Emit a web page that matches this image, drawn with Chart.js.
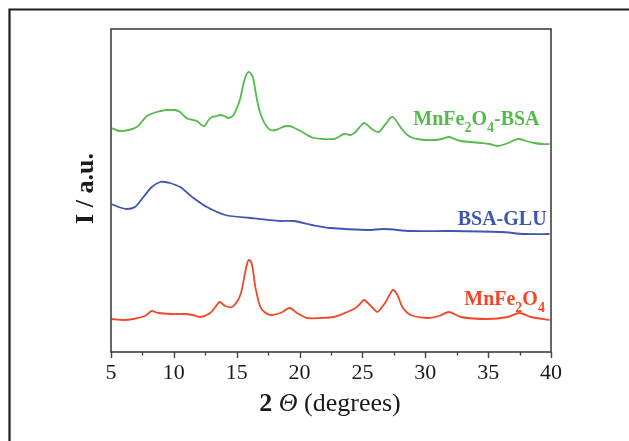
<!DOCTYPE html>
<html>
<head>
<meta charset="utf-8">
<script src="https://cdn.jsdelivr.net/npm/chart.js@4"></script>
<style>
html,body{margin:0;padding:0;background:#fff;}
canvas{display:block;}
</style>
</head>
<body>
<canvas id="c" width="629" height="441"></canvas>
<script>
// 2θ positions (degrees) and relative intensities (arbitrary units)
const greenX = [5.05,5.7,6.4,7.05,7.5,7.85,8.2,8.64,9.0,9.44,10.1,10.5,10.9,11.17,11.5,11.83,12.2,12.44,12.7,13.03,13.4,13.69,14.0,14.36,14.75,15.05,15.29,15.5,15.69,15.85,16.0,16.15,16.3,16.45,16.62,16.8,17.02,17.3,17.68,18.1,18.48,18.9,19.2,19.6,20.07,20.6,21.13,21.9,22.73,23.1,23.52,24.06,24.35,24.59,24.85,25.12,25.4,25.65,26.0,26.32,26.65,26.98,27.2,27.43,27.65,27.91,28.2,28.58,29.0,29.38,30.0,30.7,31.3,31.9,32.3,32.83,33.6,34.43,35.1,35.76,36.6,37.1,37.48,38.0,38.68,39.3,39.88];
const greenY = [224,221,222,225,231,236,238,240,241,242,242,240,235,233,232,231,227,226,231,235,236,237,236,234,237,245,254,266,275,279,280,278,274,264,252,242,234,227,222,222,224,226,226,224,221,217,214,213,213,215,218,217,219,222,226,229,227,224,221,220,225,230,234,235,232,227,222,217,214,213,212,212,213,215,213,211,210,209,208,206,209,212,213,211,209,208,208];

const blueX = [5.05,5.6,6.25,6.9,7.58,8.24,8.9,9.3,9.7,10.5,11.0,11.56,12.63,14.09,16.08,18.48,19.54,21.0,22.46,25.39,26.72,28.84,32.03,36.0,37.88,39.88];
const blueY = [148,145,143,145,155,165,170,170,169,165,160,154,145,137,134,131,131,127,124,122,123,121,121,120,118,118];

const redX = [5.05,6.0,6.78,7.71,8.0,8.24,8.77,9.8,10.77,11.5,12.1,12.9,13.3,13.64,14.09,14.62,15.15,15.4,15.6,15.8,15.95,16.1,16.22,16.35,16.48,16.88,17.2,17.68,18.48,19.22,19.8,20.6,21.7,22.73,23.8,24.46,24.8,25.12,25.52,26.19,26.5,26.85,27.15,27.43,27.78,28.18,28.84,30.17,31.1,31.9,32.83,34.96,36.56,37.48,38.41,39.88];
const redY = [33,32,33,36,39,41,39,38,38,37,35,39,45,50,46,45,53,62,75,87,92,91,87,77,65,45,40,37,39,44,39,34,34,35,40,44,48,52,48,40,44,50,57,62,57,45,37,34,36,40,35,33,35,39,35,32];

const xTicks = [5,10,15,20,25,30,35,40];
const seriesNames = ['MnFe2O4-BSA','BSA-GLU','MnFe2O4'];

const GREEN = 'rgb(84,186,76)';
const BLUE = 'rgb(62,86,176)';
const RED = 'rgb(240,72,40)';
const SERIF = '"Liberation Serif", "DejaVu Serif", serif';

function pts(xs, ys){ return xs.map((x,i)=>({x:x, y:ys[i]})); }

// label with subscripts: parts [text, isSub]
function drawRich(ctx, parts, x, y, size, color, align){
  ctx.save();
  ctx.fillStyle = color;
  ctx.textBaseline = 'alphabetic';
  ctx.textAlign = 'left';
  const fMain = 'bold ' + size + 'px ' + SERIF;
  const fSub = 'bold ' + Math.round(size*0.72) + 'px ' + SERIF;
  let w = 0;
  parts.forEach(p=>{ ctx.font = p[1]?fSub:fMain; w += ctx.measureText(p[0]).width; });
  let cx = align === 'right' ? x - w : x;
  parts.forEach(p=>{
    ctx.font = p[1]?fSub:fMain;
    ctx.fillText(p[0], cx, p[1] ? y + size*0.33 : y);
    cx += ctx.measureText(p[0]).width;
  });
  ctx.restore();
}

const decor = {
  id:'decor',
  afterDraw(chart){
    const ctx = chart.ctx;
    const a = chart.chartArea;
    const xs = chart.scales.x, ys = chart.scales.y;
    ctx.save();
    // outer frame
    ctx.strokeStyle = '#1e1e1e';
    ctx.lineWidth = 2.2;
    ctx.beginPath();
    ctx.moveTo(9.5, 441); ctx.lineTo(9.5, 9.5); ctx.lineTo(629, 9.5);
    ctx.stroke();
    // plot box
    ctx.strokeStyle = '#404040';
    ctx.lineWidth = 1.6;
    ctx.strokeRect(a.left, a.top, a.right - a.left, a.bottom - a.top);
    // x ticks (major + minor), outward
    ctx.lineWidth = 1.4;
    for (let v = 5; v <= 40.001; v += 2.5){
      const px = Math.round(xs.getPixelForValue(v)) + 0.5;
      const len = (Math.abs(v/5 - Math.round(v/5)) < 1e-6) ? 6 : 3.5;
      ctx.beginPath(); ctx.moveTo(px, a.bottom); ctx.lineTo(px, a.bottom + len); ctx.stroke();
    }
    // y-axis title
    ctx.fillStyle = '#1a1a1a';
    ctx.save();
    ctx.translate(93, (a.top + a.bottom)/2 - 2);
    ctx.rotate(-Math.PI/2);
    ctx.font = 'bold 26px ' + SERIF;
    ctx.textAlign = 'center';
    ctx.textBaseline = 'alphabetic';
    ctx.fillText('I / a.u.', 0, 0);
    ctx.restore();
    // x-axis title: "2 Θ (degrees)"
    const parts = [['2 ', 'bold 26px '+SERIF], ['\u0398', 'italic 26px '+SERIF], [' (degrees)', '26px '+SERIF]];
    let tw = 0;
    parts.forEach(p=>{ ctx.font = p[1]; tw += ctx.measureText(p[0]).width; });
    let cx = (a.left + a.right)/2 - tw/2 - 1;
    ctx.textAlign = 'left';
    ctx.textBaseline = 'alphabetic';
    parts.forEach(p=>{ ctx.font = p[1]; ctx.fillText(p[0], cx, 411); cx += ctx.measureText(p[0]).width; });
    ctx.restore();
    // series labels (anchored to data coordinates)
    drawRich(ctx, [['MnFe',0],['2',1],['O',0],['4',1],['-BSA',0]], xs.getPixelForValue(29.05), ys.getPixelForValue(227), 20, GREEN, 'left');
    drawRich(ctx, [['BSA-GLU',0]], xs.getPixelForValue(39.65), ys.getPixelForValue(127), 20, BLUE, 'right');
    drawRich(ctx, [['MnFe',0],['2',1],['O',0],['4',1]], xs.getPixelForValue(33.1), ys.getPixelForValue(47), 20, RED, 'left');
  }
};

new Chart(document.getElementById('c'), {
  type: 'line',
  data: {
    datasets: [
      {label: seriesNames[0], data: pts(greenX, greenY), borderColor: GREEN, borderWidth: 1.8, pointRadius: 0, tension: 0.3, fill: false},
      {label: seriesNames[1], data: pts(blueX, blueY), borderColor: BLUE, borderWidth: 1.8, pointRadius: 0, tension: 0.3, fill: false},
      {label: seriesNames[2], data: pts(redX, redY), borderColor: RED, borderWidth: 1.8, pointRadius: 0, tension: 0.3, fill: false}
    ]
  },
  options: {
    responsive: false,
    devicePixelRatio: 1,
    animation: false,
    layout: {padding: {left: 111, right: 78, top: 29, bottom: 0}},
    plugins: {legend: {display: false}, tooltip: {enabled: false}},
    scales: {
      x: {
        type: 'linear', min: 5, max: 40,
        afterBuildTicks: s => { s.ticks = xTicks.map(v => ({value: v})); },
        afterFit: s => { s.height = 89; },
        grid: {display: true, drawOnChartArea: false, drawTicks: false},
        border: {display: false},
        ticks: {padding: 8, color: '#1a1a1a', font: {family: SERIF, size: 22}, maxRotation: 0, autoSkip: false}
      },
      y: {display: false, min: 0, max: 323}
    }
  },
  plugins: [decor]
});
</script>
</body>
</html>
